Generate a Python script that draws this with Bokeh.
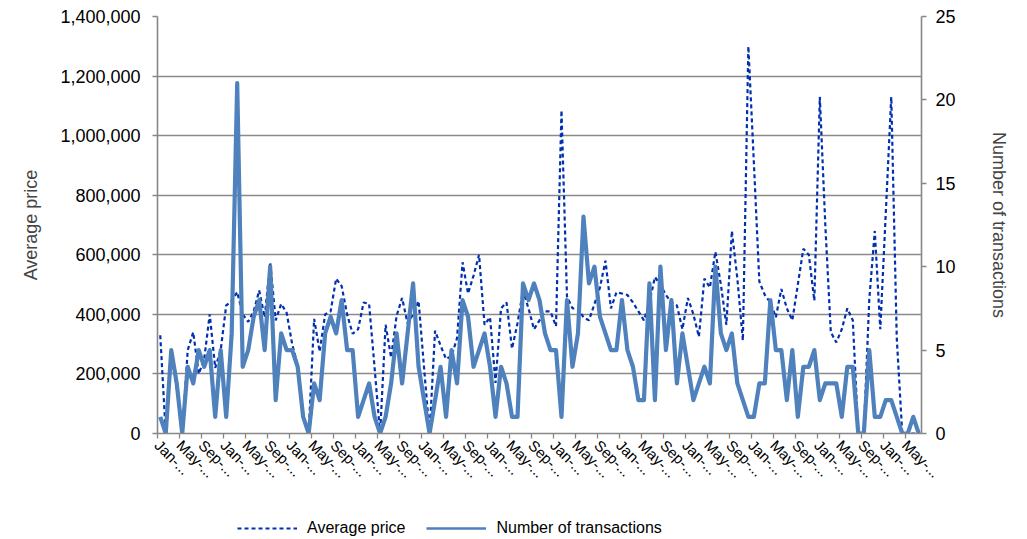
import math
from bokeh.plotting import figure
from bokeh.layouts import column
from bokeh.models import (Range1d, LinearAxis, FixedTicker, NumeralTickFormatter,
                          Legend, LegendItem, ColumnDataSource)
from bokeh.embed import file_html
from bokeh.resources import INLINE

# ---- data ----
avg_price = [
    330000, 0, 280000, 150000, 0, 280000, 340000, 200000, 250000, 400000,
    220000, 280000, 430000, 445000, 475000, 400000, 375000, 410000, 480000, 390000,
    575000, 380000, 435000, 405000, 300000, 230000, 60000, 0, 385000, 275000,
    400000, 410000, 520000, 495000, 400000, 335000, 350000, 440000, 435000, 220000,
    0, 365000, 255000, 395000, 455000, 370000, 400000, 445000, 220000, 0,
    345000, 295000, 250000, 260000, 320000, 575000, 470000, 530000, 600000, 365000,
    390000, 170000, 420000, 440000, 285000, 370000, 480000, 420000, 350000, 380000,
    410000, 410000, 360000, 1085000, 460000, 420000, 420000, 390000, 380000, 435000,
    490000, 580000, 420000, 474000, 470000, 465000, 440000, 410000, 380000, 440000,
    525000, 500000, 465000, 440000, 430000, 350000, 455000, 400000, 325000, 520000,
    490000, 610000, 500000, 365000, 680000, 520000, 312000, 1300000, 910000, 510000,
    465000, 440000, 390000, 485000, 420000, 380000, 500000, 620000, 600000, 446000,
    1130000, 700000, 340000, 306000, 350000, 420000, 380000, 0, 0, 450000,
    680000, 350000, 740000, 1130000, 320000, 0, 0, 0, 0,
]
transactions = [
    1, 0, 5, 3, 0, 4, 3, 5, 4, 5,
    1, 5, 1, 6, 21, 4, 5, 7, 8, 5,
    10, 2, 6, 5, 5, 4, 1, 0, 3, 2,
    6, 7, 6, 8, 5, 5, 1, 2, 3, 1,
    0, 1, 3, 6, 3, 6, 9, 4, 2, 0,
    2, 4, 1, 5, 3, 8, 7, 4, 5, 6,
    4, 1, 4, 3, 1, 1, 9, 8, 9, 8,
    6, 5, 5, 1, 8, 4, 6, 13, 9, 10,
    7, 6, 5, 5, 8, 5, 4, 2, 2, 9,
    2, 10, 5, 8, 3, 6, 4, 2, 3, 4,
    3, 10, 6, 5, 6, 3, 2, 1, 1, 3,
    3, 8, 5, 5, 2, 5, 1, 4, 4, 5,
    2, 3, 3, 3, 1, 4, 4, 0, 0, 5,
    1, 1, 2, 2, 1, 0, 0, 1, 0,
]
tick_months = ["Jan", "May", "Sep"]
tick_labels = [tick_months[k % 3] + "-..." for k in range(35)]
price_ticks = [0, 200000, 400000, 600000, 800000, 1000000, 1200000, 1400000]
tx_ticks = [0, 5, 10, 15, 20, 25]
series_names = ["Average price", "Number of transactions"]

FONT = "Liberation Sans"
GREY = "#878787"
PRICE_STYLE = dict(line_color="#0030b0", line_width=2.2, line_dash="4 3")
TX_STYLE = dict(line_color="#4f81bd", line_width=4.2, line_join="round")

n = len(transactions)
xs = [i + 0.5 for i in range(n)]
src = ColumnDataSource(dict(x=xs, price=avg_price, tx=transactions))

p = figure(frame_width=764, frame_height=417,
           min_border_left=157, min_border_right=90, min_border_top=16, min_border_bottom=75,
           x_range=Range1d(0, n), y_range=Range1d(0, price_ticks[-1]),
           output_backend="svg", toolbar_location=None,
           outline_line_color=None, background_fill_color="white",
           border_fill_color="white")
p.extra_y_ranges = {"tx": Range1d(0, tx_ticks[-1])}

r1 = p.line("x", "price", source=src, **PRICE_STYLE)
r2 = p.line("x", "tx", source=src, y_range_name="tx", **TX_STYLE)

# x axis
tick_pos = [4 * k for k in range(len(tick_labels))]
xa = p.xaxis[0]
xa.ticker = FixedTicker(ticks=tick_pos)
xa.major_label_overrides = {t: lab for t, lab in zip(tick_pos, tick_labels)}
xa.major_label_orientation = -math.pi / 4
xa.major_label_text_font = FONT
xa.major_label_text_font_size = "15px"
xa.major_label_text_color = "black"
xa.major_tick_out = 5
xa.major_tick_in = 0
xa.minor_tick_line_color = None
xa.axis_line_color = GREY
xa.axis_line_width = 1.6
xa.major_tick_line_color = GREY
xa.major_tick_line_width = 1.3
xa.major_label_standoff = 4

# left axis
ya = p.yaxis[0]
ya.ticker = FixedTicker(ticks=price_ticks)
ya.formatter = NumeralTickFormatter(format="0,0")
ya.axis_label = series_names[0]
ya.axis_label_text_font = FONT
ya.axis_label_text_font_style = "normal"
ya.axis_label_text_font_size = "18px"
ya.axis_label_standoff = 16
ya.major_label_text_font = FONT
ya.major_label_text_font_size = "18px"
ya.major_label_text_color = "black"
ya.major_label_standoff = 12
ya.major_tick_out = 5
ya.major_tick_in = 0
ya.minor_tick_line_color = None
ya.axis_line_color = GREY
ya.axis_line_width = 1.6
ya.major_tick_line_color = GREY
ya.major_tick_line_width = 1.3

# right axis
ra = LinearAxis(y_range_name="tx", ticker=FixedTicker(ticks=tx_ticks),
                axis_label=series_names[1])
ra.axis_label_text_font = FONT
ra.axis_label_text_font_style = "normal"
ra.axis_label_text_font_size = "18px"
ra.axis_label_standoff = 30
ra.major_label_text_font = FONT
ra.major_label_text_font_size = "18px"
ra.major_label_text_color = "black"
ra.major_label_standoff = 9
ra.major_tick_out = 5
ra.major_tick_in = 0
ra.minor_tick_line_color = None
ra.axis_line_color = GREY
ra.axis_line_width = 1.6
ra.major_tick_line_color = GREY
ra.major_tick_line_width = 1.3
p.add_layout(ra, "right")

# grid
p.xgrid.visible = False
p.ygrid.ticker = FixedTicker(ticks=price_ticks)
p.ygrid.grid_line_color = "#8a8a8a"
p.ygrid.grid_line_width = 1.7

# legend strip (separate small figure below the chart; its frame is aligned with the chart's)
lg = figure(width=1011, height=31, x_range=Range1d(0, 1), y_range=Range1d(0, 1),
            x_axis_location=None, y_axis_location=None, min_border=0,
            output_backend="svg", toolbar_location=None, outline_line_color=None,
            background_fill_color="white", border_fill_color="white")
lg.xgrid.visible = False
lg.ygrid.visible = False
# keys drawn outside the strip's visible range: only the legend samples show
offview = ColumnDataSource(dict(x=[-2, -1], y=[-2, -2]))
l1 = lg.line("x", "y", source=offview, **PRICE_STYLE)
l2 = lg.line("x", "y", source=offview, line_color=TX_STYLE["line_color"], line_width=2.4)
legend = Legend(items=[LegendItem(label=series_names[0], renderers=[l1]),
                       LegendItem(label=series_names[1], renderers=[l2])],
                orientation="horizontal", location=(80, 1),
                glyph_width=60, glyph_height=20, label_standoff=10, spacing=21,
                padding=0, margin=0, border_line_color=None,
                background_fill_alpha=0, label_text_font=FONT,
                label_text_font_size="16px", label_text_color="black")
lg.add_layout(legend, "center")

layout = column(p, lg, spacing=0)
open("out.html", "w").write(file_html(layout, INLINE))
